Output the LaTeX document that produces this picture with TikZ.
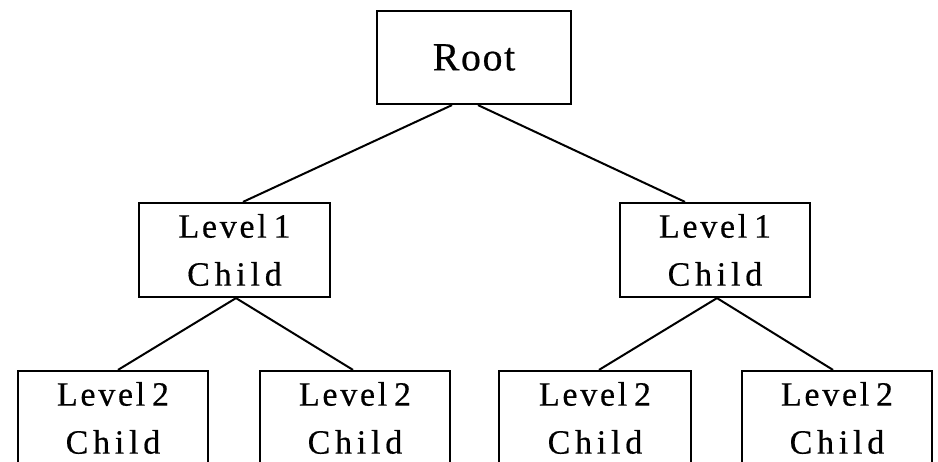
\documentclass[tikz,border=0pt]{standalone}
\usepackage{fontspec}
\setmainfont{Liberation Serif}[FakeBold=0.5]
\newfontfamily\rootfont[LetterSpace=4,FakeBold=0.5]{Liberation Serif}
\newfontfamily\levelfont[LetterSpace=8,WordSpace=0.6,FakeBold=0.5]{Liberation Serif}
\newfontfamily\childfont[LetterSpace=14,FakeBold=0.5]{Liberation Serif}
\newcommand{\boxtext}[1]{{\levelfont Level #1}\\{\childfont Child}}
\begin{document}
\begin{tikzpicture}[x=1pt,y=-1pt,
  box/.style={draw, line width=2.2pt, minimum width=191pt, minimum height=94pt,
    inner sep=0pt, align=center, font=\fontsize{34}{48}\selectfont},
  link/.style={line width=2pt}]
\useasboundingbox (0,0) rectangle (938,462);
\clip (0,0) rectangle (938,462);
\node[box, minimum width=194pt, minimum height=93pt, font=\rootfont\fontsize{40}{48}\selectfont] (root) at (474,57.5) {Root};
\node[box] (a) at (234.5,250) {\boxtext{1}};
\node[box, minimum width=190pt] (b) at (715,250) {\boxtext{1}};
\node[box, minimum width=190pt] (c) at (113,418) {\boxtext{2}};
\node[box, minimum width=190pt] (d) at (355,418) {\boxtext{2}};
\node[box, minimum width=192pt] (e) at (595,418) {\boxtext{2}};
\node[box, minimum width=190pt] (f) at (837,418) {\boxtext{2}};
\draw[link] (root.south -| 452,0) -- (a.north -| 243,0);
\draw[link] (root.south -| 478,0) -- (b.north -| 685,0);
\draw[link] (a.south -| 236,0) -- (c.north -| 118,0);
\draw[link] (a.south -| 236,0) -- (d.north -| 353,0);
\draw[link] (b.south -| 717,0) -- (e.north -| 599,0);
\draw[link] (b.south -| 717,0) -- (f.north -| 833,0);
\end{tikzpicture}
\end{document}
